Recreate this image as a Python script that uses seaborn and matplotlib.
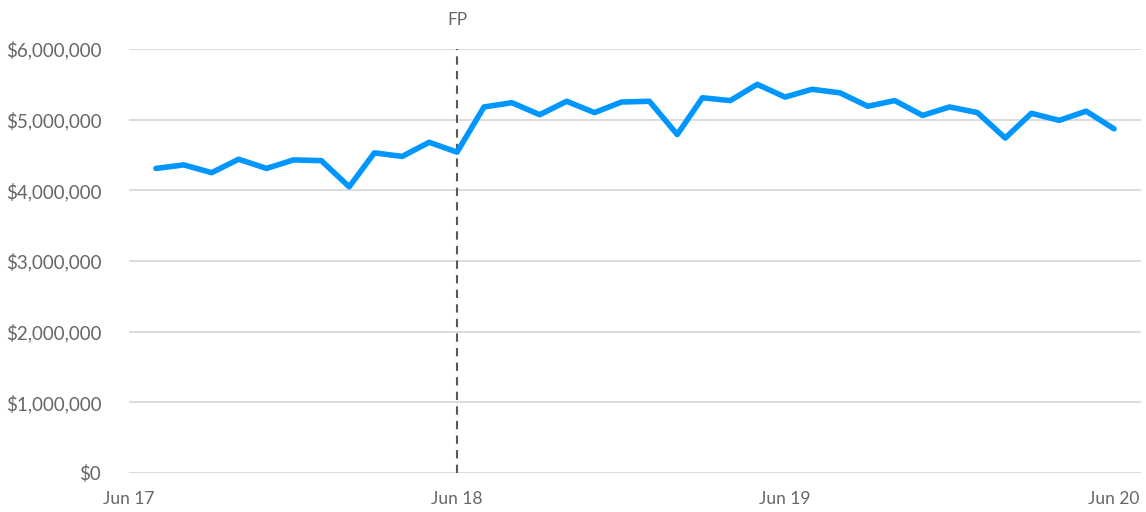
import matplotlib
matplotlib.use("Agg")
import matplotlib.pyplot as plt
import seaborn as sns
import pandas as pd

months = pd.date_range("2017-07-01", periods=36, freq="MS")
revenue = [4.31, 4.36, 4.25, 4.44, 4.31, 4.43, 4.42, 4.05, 4.53, 4.48, 4.68, 4.54,
           5.18, 5.24, 5.07, 5.26, 5.10, 5.25, 5.26, 4.79, 5.31, 5.27, 5.50, 5.32,
           5.43, 5.38, 5.19, 5.27, 5.06, 5.18, 5.10, 4.74, 5.09, 4.99, 5.12, 4.87]
revenue = [v * 1_000_000 for v in revenue]
tick_dates = pd.to_datetime(["2017-06-01", "2018-06-01", "2019-06-01", "2020-06-01"])
tick_labels = ["Jun 17", "Jun 18", "Jun 19", "Jun 20"]
y_ticks = [0, 1_000_000, 2_000_000, 3_000_000, 4_000_000, 5_000_000, 6_000_000]
marker_date = pd.Timestamp("2018-06-01")
marker_label = "FP"

df = pd.DataFrame({"month": months, "revenue": revenue})

sns.set_theme(style="white")
plt.rcParams["font.family"] = ["Lato", "DejaVu Sans"]

fig = plt.figure(figsize=(11.46, 5.12), dpi=100)
ax = fig.add_axes([129 / 1146, (512 - 473) / 512, (1141 - 129) / 1146, (473 - 49) / 512])

grey = "#666666"
gridc = "#d9d9d9"

for yt in y_ticks:
    ax.axhline(yt, color=gridc, lw=1.3, zorder=0)

sns.lineplot(data=df, x="month", y="revenue", ax=ax, color="#0096FF", lw=4.0,
             solid_capstyle="round", solid_joinstyle="round", zorder=3)

ax.axvline(marker_date, color="#595959", lw=1.5, ls=(0, (4, 3)), zorder=2)
ax.text(marker_date, 6_000_000 + 300_000, marker_label, ha="center", va="bottom",
        fontsize=12.5, color=grey)

ax.set_xlim(pd.Timestamp("2017-06-01"), pd.Timestamp("2020-07-01"))
ax.set_ylim(0, 6_000_000)
ax.set_xticks(tick_dates)
ax.set_xticklabels(tick_labels)
ax.set_yticks(y_ticks)
ax.set_yticklabels([f"${v:,.0f}" for v in y_ticks])
ax.tick_params(axis="x", direction="in", length=6, width=1.3, color=gridc,
               labelsize=12.5, labelcolor=grey, pad=13)
ax.tick_params(axis="y", length=0, labelsize=13.5, labelcolor=grey, pad=20)
for s in ax.spines.values():
    s.set_visible(False)
ax.set_xlabel("")
ax.set_ylabel("")
ax.grid(False)

fig.savefig("out.png", dpi=100)
